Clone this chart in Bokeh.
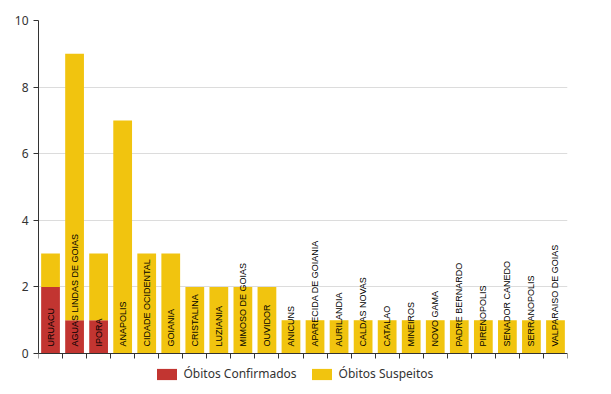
import numpy as np
from bokeh.plotting import figure
from bokeh.models import ColumnDataSource, Legend, LegendItem, FixedTicker, Range1d
from bokeh.core.properties import value
from bokeh.embed import file_html
from bokeh.resources import INLINE

municipios = ["URUACU", "AGUAS LINDAS DE GOIAS", "IPORA", "ANAPOLIS", "CIDADE OCIDENTAL",
              "GOIANIA", "CRISTALINA", "LUZIANIA", "MIMOSO DE GOIAS", "OUVIDOR", "ANICUNS",
              "APARECIDA DE GOIANIA", "AURILANDIA", "CALDAS NOVAS", "CATALAO", "MINEIROS",
              "NOVO GAMA", "PADRE BERNARDO", "PIRENOPOLIS", "SENADOR CANEDO", "SERRANOPOLIS",
              "VALPARAISO DE GOIAS"]
confirmados = [2, 1, 1, 0, 0, 0, 0, 0, 0, 0, 0, 0, 0, 0, 0, 0, 0, 0, 0, 0, 0, 0]
suspeitos = [1, 8, 2, 7, 3, 3, 2, 2, 2, 2, 1, 1, 1, 1, 1, 1, 1, 1, 1, 1, 1, 1]
y_ticks = [0, 2, 4, 6, 8, 10]

RED = "#c23531"
YELLOW = "#f1c40f"

n = len(municipios)
src = ColumnDataSource(dict(
    x=np.arange(n) + 0.5,
    municipio=municipios,
    confirmados=confirmados,
    suspeitos=suspeitos,
))

# frame spans from the top of the value axis down to the legend row;
# the category axis is pinned at y = 0
p = figure(frame_width=529, frame_height=362, output_backend="svg", toolbar_location=None,
           x_range=Range1d(0, n), y_range=Range1d(-0.87, 10),
           min_border_left=38, min_border_right=27, min_border_top=20, min_border_bottom=0)
p.outline_line_color = None
p.background_fill_color = "white"
p.border_fill_color = "white"

rs = p.vbar_stack(["confirmados", "suspeitos"], x="x", width=0.78, color=[RED, YELLOW],
                  line_color=None, source=src)

p.text(x="x", y=0, text="municipio", source=src, angle=np.pi / 2, y_offset=-7,
       text_align="left", text_baseline="middle", text_font=value("Liberation Sans"),
       text_font_size="9px", text_color="#000000")

# y axis
p.yaxis.ticker = FixedTicker(ticks=y_ticks)
p.yaxis.bounds = (0, 10)
p.yaxis.minor_tick_line_color = None
p.yaxis.major_tick_out = 5
p.yaxis.major_tick_in = 0
p.yaxis.axis_line_color = "#333333"
p.yaxis.major_tick_line_color = "#333333"
p.yaxis.major_label_text_color = "#333333"
p.yaxis.major_label_text_font_size = "12px"
p.yaxis.major_label_text_font = "Noto Sans"
p.yaxis.major_label_standoff = 5

# x axis
p.xaxis.ticker = FixedTicker(ticks=list(range(n + 1)))
p.xaxis.fixed_location = 0
p.xaxis.major_label_overrides = {i: "" for i in range(n + 1)}
p.xaxis.major_label_standoff = 0
p.xaxis.minor_tick_line_color = None
p.xaxis.major_tick_out = 5
p.xaxis.major_tick_in = 0
p.xaxis.axis_line_color = "#333333"
p.xaxis.major_tick_line_color = "#333333"

p.xgrid.visible = False
p.ygrid.grid_line_color = "#dcdcdc"
p.ygrid.bounds = (0, n)

legend = Legend(items=[LegendItem(label="Óbitos Confirmados", renderers=[rs[0]]),
                       LegendItem(label="Óbitos Suspeitos", renderers=[rs[1]])],
                orientation="horizontal", location=(115.5, 0), padding=0, margin=0,
                spacing=12, label_standoff=5, glyph_width=25, glyph_height=14,
                label_height=14, label_text_font_size="12px", label_text_color="#333333",
                label_text_font="Noto Sans", border_line_alpha=0, background_fill_alpha=0)
p.add_layout(legend, "center")

open("out.html", "w").write(file_html(p, INLINE))
